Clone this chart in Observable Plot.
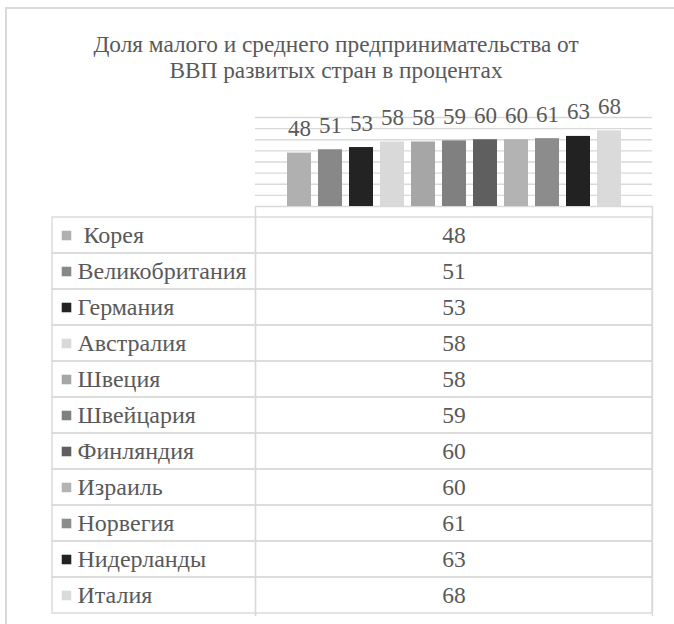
<!DOCTYPE html>
<html>
<head>
<meta charset="utf-8">
<script src="https://cdn.jsdelivr.net/npm/d3@7"></script>
<script src="https://cdn.jsdelivr.net/npm/@observablehq/plot@0.6"></script>
<style>
  html, body { margin: 0; padding: 0; background: #fff; overflow: hidden; }
  #wrap { position: relative; width: 674px; height: 624px; overflow: hidden; font-family: 'Liberation Serif', 'Times New Roman', 'DejaVu Serif', serif; }
  #hline { position: absolute; left: 5px; top: 7px; width: 669px; height: 2px; background: #d9d9d9; }
  #vline { position: absolute; left: 5px; top: 7px; width: 2px; height: 617px; background: #d9d9d9; }
  #title { position: absolute; left: 6px; width: 660px; top: 31px; text-align: center; font-size: 23.3px; line-height: 26px; color: #595959; }
  #bars, #table { position: absolute; left: 0; }
  #bars { top: 90px; }
  #table { top: 206px; }
  svg text { white-space: pre; }
</style>
</head>
<body>
<div id="wrap">
  <div id="hline"></div>
  <div id="vline"></div>
  <div id="title"></div>
  <div id="bars"></div>
  <div id="table"></div>
</div>
<script>
const titleLines = ["Доля малого и среднего предпринимательства от", "ВВП развитых стран в процентах"];
const countries = [" Корея", "Великобритания", "Германия", "Австралия", "Швеция", "Швейцария", "Финляндия", "Израиль", "Норвегия", "Нидерланды", "Италия"];
const values = [48, 51, 53, 58, 58, 59, 60, 60, 61, 63, 68];
const colors = ["#b0b0b0", "#888888", "#232323", "#d9d9d9", "#a6a6a6", "#808080", "#5f5f5f", "#b3b3b3", "#8c8c8c", "#222222", "#dadada"];
const yTicks = [0, 10, 20, 30, 40, 50, 60, 70, 80];

const rows = countries.map((c, i) => ({country: c, value: values[i], color: colors[i]}));
const grid = "#d9d9d9";
const ink = "#595959";
const font = "'Liberation Serif', 'Times New Roman', 'DejaVu Serif', serif";

document.getElementById("title").innerHTML = titleLines.join("<br>");

const bars = Plot.plot({
  width: 674,
  height: 124,
  marginTop: 27,
  marginBottom: 8,
  marginLeft: 255,
  marginRight: 22,
  style: {fontFamily: font, background: "transparent"},
  x: {domain: countries, paddingInner: 0.23, paddingOuter: 0.87, axis: null},
  y: {domain: [0, 80], axis: null},
  marks: [
    Plot.ruleY(yTicks, {stroke: grid, strokeWidth: 1.4}),
    Plot.barY(rows, {x: "country", y: "value", fill: "color"}),
    Plot.text(rows, {x: "country", y: "value", text: d => String(d.value), dy: -24.4, fontSize: 23, fill: ink})
  ]
});
document.getElementById("bars").appendChild(bars);

const split = 0.3383;
const table = Plot.plot({
  width: 674,
  height: 418,
  marginTop: 8,
  marginBottom: 8,
  marginLeft: 52,
  marginRight: 22,
  style: {fontFamily: font, background: "transparent"},
  x: {domain: [0, 1], axis: null},
  y: {domain: countries, padding: 0, axis: null},
  marks: [
    Plot.cell(rows, {y: "country", fill: "none", stroke: grid, strokeWidth: 1.4}),
    Plot.ruleX([split, 1], {stroke: grid, strokeWidth: 1.4, insetTop: -8}),
    Plot.ruleX([split], {stroke: grid, strokeWidth: 1.4}),
    Plot.dot(rows, {x: 0, y: "country", dx: 14, symbol: "square", r: 5.4, fill: "color", stroke: null}),
    Plot.text(rows, {x: 0, y: "country", text: "country", dx: 25, textAnchor: "start", fontSize: 24, fill: ink}),
    Plot.text(rows, {x: (split + 1) / 2, y: "country", text: d => String(d.value), fontSize: 23.5, fill: ink})
  ]
});
document.getElementById("table").appendChild(table);
</script>
</body>
</html>
